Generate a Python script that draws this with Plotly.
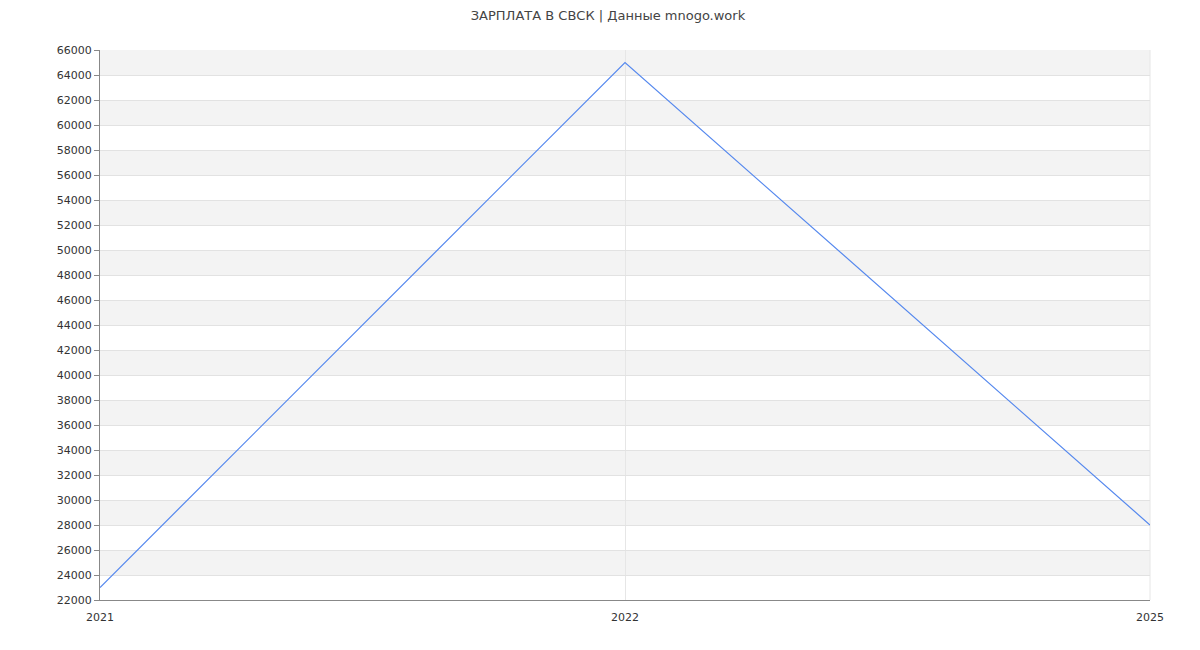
import plotly.graph_objects as go

years = ["2021", "2022", "2025"]
salaries = [23000, 65000, 28000]
y_ticks = list(range(22000, 66001, 2000))

fig = go.Figure()
fig.add_trace(go.Scatter(
    x=years, y=salaries, mode="lines",
    line=dict(color="#5588ee", width=1.2),
    hoverinfo="x+y", showlegend=False,
))

shapes = []
for lo in y_ticks[1:-1:2]:
    shapes.append(dict(type="rect", xref="paper", yref="y", x0=0, x1=1,
                       y0=lo, y1=lo + 2000, fillcolor="#f3f3f3",
                       line=dict(width=0), layer="below"))
shapes.append(dict(type="line", xref="paper", yref="paper", x0=1, x1=1, y0=0, y1=1,
                   line=dict(color="#e6e6e6", width=1), layer="below"))

fig.update_layout(
    width=1200, height=650,
    margin=dict(l=92, r=58, t=42, b=58),
    paper_bgcolor="white", plot_bgcolor="white",
    font=dict(family="DejaVu Sans", size=11, color="#333"),
    title=dict(text="ЗАРПЛАТА В СВСК | Данные mnogo.work", x=0.5, xanchor="center",
               y=0.988, yanchor="middle", font=dict(size=13, color="#444")),
    shapes=shapes,
    xaxis=dict(type="category", range=[0, 2], showgrid=True, gridcolor="#e6e6e6",
               showline=True, linecolor="#888", ticks="outside", ticklen=7,
               tickcolor="rgba(0,0,0,0)", zeroline=False,
               tickfont=dict(size=11, color="#333")),
    yaxis=dict(range=[22000, 66000], tickvals=y_ticks, ticktext=[str(v) for v in y_ticks],
               showgrid=True, gridcolor="#e2e2e2",
               showline=True, linecolor="#888", ticks="outside", ticklen=5, tickcolor="#888",
               zeroline=False, tickfont=dict(size=11, color="#333")),
)
fig.write_html("out.html")
